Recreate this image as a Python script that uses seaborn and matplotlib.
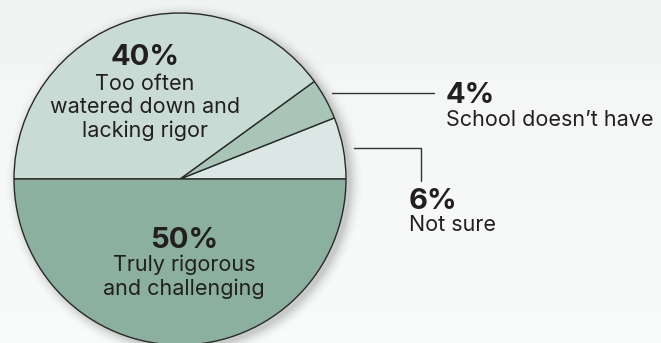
import numpy as np
import matplotlib
matplotlib.use("Agg")
import matplotlib.pyplot as plt
import seaborn as sns

# Survey shares, counter-clockwise from the right-hand horizontal
labels = ["Not sure", "School doesn't have",
          "Too often\nwatered down and\nlacking rigor",
          "Truly rigorous\nand challenging"]
values = [6, 4, 40, 50]
pcts = ["6%", "4%", "40%", "50%"]
colors = ["#dbe7e4", "#a8c5b8", "#c8dbd4", "#8bb09f"]

sns.set_theme(style="white")
plt.rcParams["font.family"] = ["Inter", "DejaVu Sans"]

W, H = 661, 343
fig = plt.figure(figsize=(W / 100, H / 100), dpi=100)
ax = fig.add_axes([0, 0, 1, 1])
ax.set_xlim(0, W)
ax.set_ylim(0, H)
ax.set_aspect("equal")
ax.axis("off")


def P(x, y):
    """Pixel position (origin top-left) to data coordinates."""
    return x, H - y


# soft background: slightly cooler band at top, fading to near white
yy = np.linspace(0, 1, H)[:, None]
base = np.where(yy < 65 / H, 0.952, 0.962 + 0.022 * yy)
bg = np.dstack([base - 0.006, base + 0.001, base + 0.001]) * np.ones((1, W, 1))
ax.imshow(np.clip(bg, 0, 1), extent=(0, W, 0, H), origin="upper", zorder=0)

cx, cy = P(180, 179)
r = 166

# drop shadow around the pie
gx, gy = np.meshgrid(np.arange(W) + 0.5, H - (np.arange(H) + 0.5))
d = np.hypot(gx - (cx + 4), gy - (cy - 3)) - r
a = np.clip(1 - d / 14, 0, 1) ** 2 * 0.35
a[d < 0] = 0.35
sh = np.zeros((H, W, 4))
sh[..., :3] = 0.45
sh[..., 3] = a
ax.imshow(sh, extent=(0, W, 0, H), origin="upper", zorder=1)

ax.pie(values, colors=colors, startangle=0, counterclock=True,
       center=(cx, cy), radius=r, frame=True,
       wedgeprops=dict(edgecolor="#2a2a2a", linewidth=1.0, zorder=2))
ax.set_xlim(0, W)
ax.set_ylim(0, H)
ax.axis("off")

txt = "#231f20"
big, small = 21, 15.5

# labels inside the large slices
ax.text(*P(145, 65), pcts[2], ha="center", va="baseline", fontsize=big,
        fontweight="bold", color=txt, zorder=5)
for i, line in enumerate(labels[2].split("\n")):
    ax.text(*P(145, 90 + i * 23.3), line, ha="center", va="baseline",
            fontsize=small, color=txt, zorder=5)

ax.text(*P(184, 248), pcts[3], ha="center", va="baseline", fontsize=big,
        fontweight="bold", color=txt, zorder=5)
for i, line in enumerate(labels[3].split("\n")):
    ax.text(*P(184, 271 + i * 24), line, ha="center", va="baseline",
            fontsize=small, color=txt, zorder=5)

# callouts for the small slices
lc = "#333333"
ax.plot([P(332, 93.3)[0], P(434, 93.3)[0]],
        [P(332, 93.3)[1], P(434, 93.3)[1]], color=lc, lw=1.0, zorder=4)
ax.text(*P(446, 103), pcts[1], ha="left", va="baseline", fontsize=big,
        fontweight="bold", color=txt, zorder=5)
ax.text(*P(446, 126), labels[1].replace("'", "\u2019"), ha="left",
        va="baseline", fontsize=small, color=txt, zorder=5)

xs = [354, 420.7, 420.7]
ys = [148.3, 148.3, 180.7]
ax.plot(xs, [H - y for y in ys], color=lc, lw=1.0, zorder=4)
ax.text(*P(409, 209), pcts[0], ha="left", va="baseline", fontsize=big,
        fontweight="bold", color=txt, zorder=5)
ax.text(*P(409, 231), labels[0], ha="left", va="baseline", fontsize=small,
        color=txt, zorder=5)

fig.savefig("out.png", dpi=100)
